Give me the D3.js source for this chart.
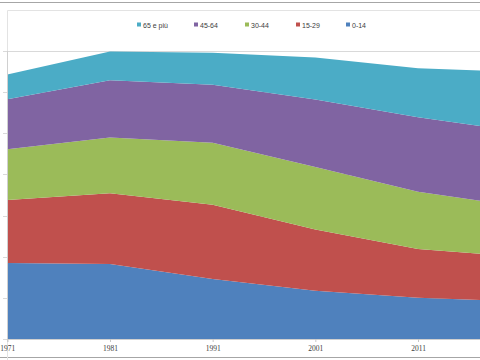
<!DOCTYPE html>
<html>
<head>
<meta charset="utf-8">
<script src="https://cdn.jsdelivr.net/npm/d3@7"></script>
<style>
  html, body { margin: 0; padding: 0; background: #fff; }
  svg { display: block; }
</style>
</head>
<body>
<svg id="chart" width="480" height="360"></svg>
<script>
// Data (arbitrary units; gridline step = 10)
const years = [1971, 1981, 1991, 2001, 2011, 2021];
const tickYears = [1971, 1981, 1991, 2001, 2011];
const ageGroups = ["0-14", "15-29", "30-44", "45-64", "65 e più"];
const s0_14   = [18.5, 18.2, 14.6, 11.7, 10.0, 9.1];
const s15_29  = [15.3, 17.2, 18.0, 14.9, 11.9, 10.8];
const s30_44  = [12.3, 13.6, 15.1, 15.2, 13.9, 12.3];
const s45_64  = [12.2, 13.9, 14.1, 16.4, 18.1, 18.2];
const s65plus = [6.0, 7.0, 7.8, 10.2, 11.9, 14.5];
const legendOrder = ["65 e più", "45-64", "30-44", "15-29", "0-14"];
const colors = ["#4F81BD", "#C0504D", "#9BBB59", "#8064A2", "#4BACC6"];

const seriesValues = [s0_14, s15_29, s30_44, s45_64, s65plus];
const table = years.map((y, i) => {
  const row = { year: y };
  ageGroups.forEach((g, k) => row[g] = seriesValues[k][i]);
  return row;
});

const svg = d3.select("#chart");
const color = d3.scaleOrdinal().domain(ageGroups).range(colors);

const x = d3.scaleLinear().domain([1971, 2021]).range([7.3, 520.7]);
const y = d3.scaleLinear().domain([0, 70]).range([339, 51]);

// outer frame lines
svg.append("line").attr("x1", 0).attr("x2", 480).attr("y1", 2.5).attr("y2", 2.5)
  .attr("stroke", "#a6a6a6").attr("stroke-width", 1);
svg.append("line").attr("x1", 0).attr("x2", 480).attr("y1", 357.5).attr("y2", 357.5)
  .attr("stroke", "#a6a6a6").attr("stroke-width", 1);
// inner chart area border
svg.append("path").attr("d", "M7.5,360 V10.5 H480")
  .attr("fill", "none").attr("stroke", "#e3e3e3").attr("stroke-width", 1);

// gridlines
const yTicks = d3.range(0, 71, 10);
svg.append("g").selectAll("line").data(yTicks).join("line")
  .attr("x1", 3).attr("x2", 480)
  .attr("y1", d => Math.round(y(d)) + 0.5).attr("y2", d => Math.round(y(d)) + 0.5)
  .attr("stroke", "#d9d9d9").attr("stroke-width", 1);

// stacked areas
const stack = d3.stack().keys(ageGroups);
const stacked = stack(table);
const area = d3.area()
  .x(d => x(d.data.year))
  .y0(d => y(d[0]))
  .y1(d => y(d[1]));
svg.append("g").selectAll("path").data(stacked).join("path")
  .attr("d", area)
  .attr("fill", d => color(d.key));

// left axis line
svg.append("line").attr("x1", 7.5).attr("x2", 7.5).attr("y1", 51).attr("y2", 339)
  .attr("stroke", "#d0d0d0");

// x axis
const xAxis = d3.axisBottom(x).tickValues(tickYears).tickFormat(d3.format("d")).tickSize(3).tickPadding(4);
const gx = svg.append("g").attr("transform", "translate(0,339)").call(xAxis);
gx.select(".domain").attr("stroke", "#d0d0d0");
gx.selectAll(".tick line").attr("stroke", "#c8c8c8");
gx.selectAll("text").attr("font-family", "Liberation Serif, serif").attr("font-size", 7.5).attr("fill", "#404040");

// legend
const legendX = [137, 194, 245, 296, 346];
const lg = svg.append("g").selectAll("g").data(legendOrder).join("g")
  .attr("transform", (d, i) => `translate(${legendX[i]},25)`);
lg.append("rect").attr("x", 0).attr("y", -2.5).attr("width", 4).attr("height", 4)
  .attr("fill", d => color(d));
lg.append("text").attr("x", 6).attr("y", 2.5)
  .attr("font-family", "Liberation Sans, Arial, sans-serif").attr("font-size", 7)
  .attr("fill", "#404040").text(d => d);
</script>
</body>
</html>
